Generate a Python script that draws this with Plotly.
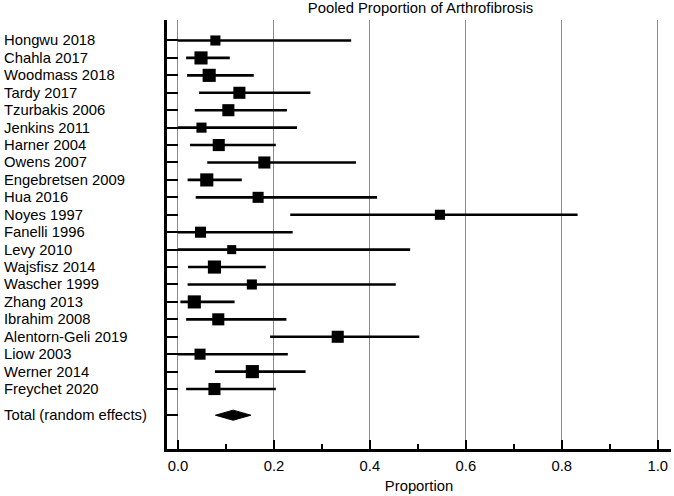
import numpy as np
import plotly.graph_objects as go

studies = ["Hongwu 2018", "Chahla 2017", "Woodmass 2018", "Tardy 2017", "Tzurbakis 2006",
           "Jenkins 2011", "Harner 2004", "Owens 2007", "Engebretsen 2009", "Hua 2016",
           "Noyes 1997", "Fanelli 1996", "Levy 2010", "Wajsfisz 2014", "Wascher 1999",
           "Zhang 2013", "Ibrahim 2008", "Alentorn-Geli 2019", "Liow 2003", "Werner 2014",
           "Freychet 2020"]
proportion = [0.078, 0.048, 0.065, 0.128, 0.105, 0.049, 0.085, 0.180, 0.060, 0.167,
              0.546, 0.047, 0.112, 0.076, 0.154, 0.034, 0.084, 0.333, 0.046, 0.155, 0.076]
ci_low = [0.000, 0.017, 0.019, 0.044, 0.035, 0.000, 0.025, 0.061, 0.020, 0.037,
          0.234, 0.000, 0.000, 0.021, 0.020, 0.005, 0.017, 0.192, 0.000, 0.077, 0.017]
ci_high = [0.361, 0.108, 0.158, 0.276, 0.227, 0.248, 0.204, 0.371, 0.133, 0.415,
           0.833, 0.239, 0.484, 0.183, 0.454, 0.118, 0.226, 0.503, 0.229, 0.266, 0.204]
weights = [3.5, 5.9, 5.9, 5.0, 5.0, 3.5, 5.0, 5.0, 5.9, 4.2,
           3.5, 4.2, 2.8, 5.9, 3.5, 5.9, 5.0, 5.0, 4.2, 5.9, 5.0]
total_label = "Total (random effects)"
total_est = 0.115
total_low = 0.078
total_high = 0.152
x_ticks = [0.0, 0.2, 0.4, 0.6, 0.8, 1.0]
x_tick_labels = ["0.0", "0.2", "0.4", "0.6", "0.8", "1.0"]

FONT = "Liberation Sans, Arial, sans-serif"
FS = 14.8

rows = list(range(len(studies)))
total_row = len(studies) + 0.5

p = np.array(proportion)
lo = np.array(ci_low)
hi = np.array(ci_high)
sizes = np.sqrt(np.array(weights)) * 5.4

fig = go.Figure()
fig.add_trace(go.Scatter(
    x=p, y=rows, mode="markers",
    marker=dict(symbol="square", size=sizes, color="black", opacity=1, line=dict(width=0)),
    error_x=dict(type="data", symmetric=False, array=hi - p, arrayminus=p - lo,
                 color="black", thickness=2.6, width=0),
    hoverinfo="skip", showlegend=False,
))

dh = 0.29
fig.add_trace(go.Scatter(
    x=[total_low, total_est, total_high, total_est, total_low],
    y=[total_row, total_row - dh, total_row, total_row + dh, total_row],
    mode="lines", fill="toself", fillcolor="black",
    line=dict(color="black", width=1), hoverinfo="skip", showlegend=False,
))

annotations = []
for r, s in zip(rows, studies):
    annotations.append(dict(x=-0.3275, xref="paper", y=r, yref="y", text=s,
                            showarrow=False, xanchor="left", yanchor="middle",
                            font=dict(family=FONT, size=FS, color="black")))
annotations.append(dict(x=-0.3275, xref="paper", y=total_row, yref="y", text=total_label,
                        showarrow=False, xanchor="left", yanchor="middle",
                        font=dict(family=FONT, size=FS, color="black")))

fig.update_layout(
    width=674, height=496,
    margin=dict(l=167, r=3, t=20, b=47, pad=0),
    paper_bgcolor="white", plot_bgcolor="white",
    font=dict(family=FONT, size=FS, color="black"),
    title=dict(text="Pooled Proportion of Arthrofibrosis", x=420.5 / 674, xanchor="center",
               y=1 - 8 / 496, yanchor="middle", yref="container",
               font=dict(family=FONT, size=FS, color="black")),
    annotations=annotations,
    xaxis=dict(
        range=[-0.0229, 1.0277], tickvals=x_ticks, ticktext=x_tick_labels,
        showgrid=True, gridcolor="#8a8a8a", gridwidth=1,
        zeroline=False, showline=True, linecolor="black", linewidth=3,
        ticks="inside", ticklen=9, tickwidth=2, tickcolor="black",
        minor=dict(dtick=0.1, tick0=0, ticks="inside", ticklen=5, tickwidth=2,
                   tickcolor="black", showgrid=False),
        tickfont=dict(family=FONT, size=FS, color="black"),
        ticklabelstandoff=1,
        title=dict(text="Proportion", font=dict(family=FONT, size=FS, color="black"),
                   standoff=8),
    ),
    yaxis=dict(
        range=[23.44, -1.176], tickvals=rows + [total_row], showticklabels=False,
        showgrid=False, zeroline=False, showline=True, linecolor="black", linewidth=3,
        ticks="inside", ticklen=11, tickwidth=1.5, tickcolor="black",
    ),
)

fig.write_html("out.html", config={"displayModeBar": False},
               post_script="document.body.style.margin='0px';")
